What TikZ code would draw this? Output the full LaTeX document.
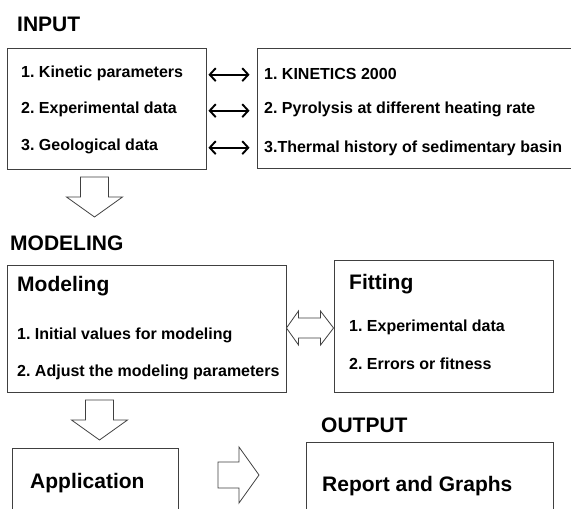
\documentclass[tikz,border=0pt]{standalone}
\usepackage{fontspec}
\setmainfont{Liberation Sans}
\usetikzlibrary{arrows.meta,positioning}
\frenchspacing
\tikzset{
  box/.style={draw=black!75, line width=0.9pt, rectangle},
  item/.style={font=\fontsize{16}{19}\selectfont\bfseries, inner sep=0pt, anchor=base west},
  title/.style={font=\fontsize{21}{25}\selectfont\bfseries, inner sep=0pt, anchor=base west},
  link/.style={line width=1.9pt, {Straight Barb[length=6pt,width=13pt]}-{Straight Barb[length=6pt,width=13pt]}},
  hollow/.style={draw=black!75, line width=0.8pt, fill=white, line join=miter}
}

\begin{document}
\begin{tikzpicture}[x=1pt, y=-1pt]
    \fill[white] (0,0) rectangle (571,509);
    \useasboundingbox (0,0) rectangle (571,509);

    % boxes
    \node[box, minimum width=199pt, minimum height=121pt] (inbox) at (106.5,108.5) {};
    \node[box, minimum width=316pt, minimum height=120pt] (srcbox) at (415,108) {};
    \node[box, minimum width=279pt, minimum height=127pt] (modbox) at (146.5,328.5) {};
    \node[box, minimum width=219pt, minimum height=132pt] (fitbox) at (443.5,326) {};
    \node[box, minimum width=166pt, minimum height=82pt] (appbox) at (95,489) {};
    \node[box, minimum width=247pt, minimum height=88pt] (repbox) at (429.5,486) {};

    % headings
    \node[title] (input) at (17,31) {INPUT};
    \node[title] (modeling) at (10,250) {MODELING};
    \node[title] (output) at (321,432) {OUTPUT};

    % input
    \node[item] (k1) at (21,77.3) {1. Kinetic parameters};
    \node (k2) [below=36pt of k1.base west, item] {2. Experimental data};
    \node (k3) [below=37pt of k2.base west, item] {3. Geological data};
    \node[item] (s1) at (264,79) {1. KINETICS 2000};
    \node (s2) [below=34pt of s1.base west, item] {2. Pyrolysis at different heating rate};
    \node (s3) [below=39.5pt of s2.base west, item] {3.Thermal history of sedimentary basin};

    \draw[link, shorten <=2pt, shorten >=7pt] (inbox.east |- k1.mid) -- (srcbox.west |- k1.mid);
    \draw[link, shorten <=2pt, shorten >=7pt] (inbox.east |- k2.mid) -- (srcbox.west |- k2.mid);
    \draw[link, shorten <=2pt, shorten >=7pt] (inbox.east |- k3.mid) -- (srcbox.west |- k3.mid);

    % modeling and fitting
    \node[title] (mtitle) at (17,291) {Modeling};
    \node (m1) [below=48pt of mtitle.base west, item] {1. Initial values for modeling};
    \node (m2) [below=37pt of m1.base west, item] {2. Adjust the modeling parameters};
    \node[title] (ftitle) at (349,289) {Fitting};
    \node (f1) [below=42pt of ftitle.base west, item] {1. Experimental data};
    \node (f2) [below=38pt of f1.base west, item] {2. Errors or fitness};

    % output
    \node[title] (app) at (30,488) {Application};
    \node[title] (rep) at (322,491) {Report and Graphs};

    % block arrows
    \draw[hollow] (80.5,177) -- ++(28,0) -- ++(0,20) -- ++(14,0) -- ++(-28,20)
        -- ++(-28,-20) -- ++(14,0) -- cycle;
    \draw[hollow] (85.5,400) -- ++(28,0) -- ++(0,20) -- ++(14,0) -- ++(-28,20)
        -- ++(-28,-20) -- ++(14,0) -- cycle;
    \draw[hollow] (218,462) -- ++(21,0) -- ++(0,-15) -- ++(20,28) -- ++(-20,28)
        -- ++(0,-15) -- ++(-21,0) -- cycle;
    \draw[hollow] (modbox.east |- 0,328) -- ++(12,-17) -- ++(0,7) -- ++(22,0) -- ++(0,-7)
        -- (fitbox.west |- 0,328) -- ++(-13,17) -- ++(0,-7) -- ++(-22,0) -- ++(0,7) -- cycle;
\end{tikzpicture}
\end{document}
